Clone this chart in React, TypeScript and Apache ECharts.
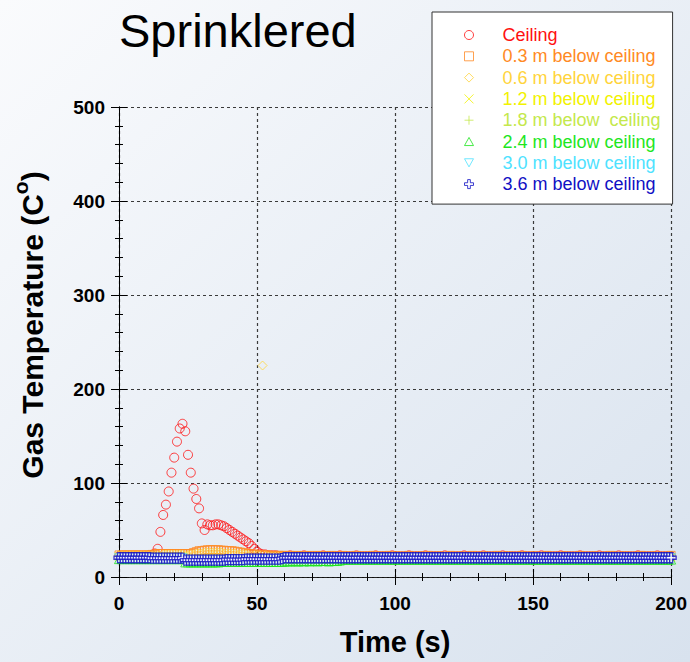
import React, { useEffect, useRef } from 'react';
import * as echarts from 'echarts';

const FONT = '"Liberation Sans", Arial, Helvetica, sans-serif';

// time samples (s)
const time = [
  0, 1, 2, 3, 4, 5, 6, 7, 8, 9, 10, 11, 12, 13, 14, 15, 16, 17, 18, 19,
  20, 21, 22, 23, 24, 25, 26, 27, 28, 29, 30, 31, 32, 33, 34, 35, 36, 37, 38, 39,
  40, 41, 42, 43, 44, 45, 46, 47, 48, 49, 50, 51, 52, 53, 54, 55, 56, 57, 58, 59,
  60, 61, 62, 63, 64, 65, 66, 67, 68, 69, 70, 71, 72, 73, 74, 75, 76, 77, 78, 79,
  80, 81, 82, 83, 84, 85, 86, 87, 88, 89, 90, 91, 92, 93, 94, 95, 96, 97, 98, 99,
  100, 101, 102, 103, 104, 105, 106, 107, 108, 109, 110, 111, 112, 113, 114, 115, 116, 117, 118, 119,
  120, 121, 122, 123, 124, 125, 126, 127, 128, 129, 130, 131, 132, 133, 134, 135, 136, 137, 138, 139,
  140, 141, 142, 143, 144, 145, 146, 147, 148, 149, 150, 151, 152, 153, 154, 155, 156, 157, 158, 159,
  160, 161, 162, 163, 164, 165, 166, 167, 168, 169, 170, 171, 172, 173, 174, 175, 176, 177, 178, 179,
  180, 181, 182, 183, 184, 185, 186, 187, 188, 189, 190, 191, 192, 193, 194, 195, 196, 197, 198, 199,
  200,
];

const ceiling = [
  22, 22, 22, 22, 22, 22, 22, 22, 22, 22,
  22, 23, 23, 25, 30, 48, 66, 77, 91, 111,
  127, 144, 158, 163, 155, 130, 111, 94, 83, 73,
  57, 50, 56, 55, 55, 56, 56, 55, 54, 52,
  50, 48, 46, 44, 42, 40, 38, 36, 33, 30,
  27, 25, 24, 24, 23, 23, 23, 23, 22, 22,
  22, 22, 23, 22, 22, 22, 22, 23, 22, 22,
  22, 22, 22, 22, 23, 22, 22, 22, 22, 22,
  23, 22, 22, 22, 22, 22, 23, 22, 22, 22,
  22, 22, 22, 23, 22, 22, 22, 22, 22, 23,
  22, 22, 22, 22, 22, 23, 22, 22, 22, 22,
  22, 23, 22, 22, 22, 22, 22, 22, 23, 22,
  22, 22, 22, 22, 22, 23, 22, 22, 22, 22,
  22, 22, 23, 22, 22, 22, 22, 22, 22, 23,
  22, 22, 22, 22, 22, 22, 23, 22, 22, 22,
  22, 22, 22, 23, 22, 22, 22, 22, 22, 22,
  23, 22, 22, 22, 22, 22, 22, 23, 22, 22,
  22, 22, 22, 22, 23, 22, 22, 22, 22, 22,
  22, 23, 22, 22, 22, 22, 22, 22, 23, 22,
  22, 22, 22, 22, 22, 23, 22, 22, 22, 22,
  22,
];

const m03 = [
  23.5, 23.5, 23.5, 23.5, 23.5, 23.5, 23.5, 23.5, 23.5, 23.5,
  23.5, 23.5, 24, 24.5, 25, 25, 25, 25, 25, 25,
  25, 25, 25, 25, 25, 24.5, 25, 26, 27, 28,
  28, 28.5, 29, 29, 29, 29, 29, 28.5, 28.5, 28,
  28, 28, 27.5, 27, 26.5, 26, 25.5, 25, 24.5, 24.5,
  24, 24, 23.5, 23.5, 23.5, 23, 23, 23, 23, 23,
  23, 22.5, 23, 22, 23, 22.5, 22, 23, 22.5, 22,
  23, 22, 22.5, 23, 22, 22.5, 22, 23, 22, 22.5,
  22, 23, 22, 22, 22.5, 22, 23, 22, 22, 22.5,
  22, 22, 23, 22, 22, 22.5, 22, 22, 23, 22,
  22, 22.5, 22, 22, 22, 23, 22, 22, 22, 22.5,
  22, 22, 23, 22, 22, 22, 22.5, 22, 22, 22,
  23, 22, 22, 22, 22.5, 22, 22, 22, 23, 22,
  22, 22, 22.5, 22, 22, 22, 22, 23, 22, 22,
  22, 22.5, 22, 22, 22, 22, 23, 22, 22, 22,
  22.5, 22, 22, 22, 22, 23, 22, 22, 22, 22,
  22, 22.5, 22, 22, 22, 22, 22, 23, 22, 22,
  22, 22, 22.5, 22, 22, 22, 22, 22, 23, 22,
  22, 22, 22, 22.5, 22, 22, 22, 22, 22, 23,
  22, 22, 22, 22, 22.5, 22, 22, 22, 22, 22,
  23,
];

const m06 = [
  23, 23, 23, 23, 23, 23, 23, 23, 23, 23,
  23, 23, 23, 23, 23, 23, 24, 24, 24, 24,
  24, 24, 24, 24, 23, 23, 24, 24, 25, 25,
  25, 26, 26, 26, 26, 26, 26, 26, 25, 25,
  25, 25, 25, 24, 24, 24, 24, 23, 23, 23,
  23, 23, 225, 23, 22, 22, 22, 22, 22, 22,
  22, 22, 22, 22, 22, 22, 22, 22, 22, 22,
  22, 22, 22, 22, 22, 22, 22, 22, 22, 22,
  22, 22, 22, 22, 22, 22, 22, 22, 22, 22,
  22, 22, 22, 22, 22, 22, 22, 22, 22, 22,
  22, 22, 22, 22, 22, 22, 22, 22, 22, 22,
  22, 22, 22, 22, 22, 22, 22, 22, 22, 22,
  22, 22, 22, 22, 22, 22, 22, 22, 22, 22,
  22, 22, 22, 22, 22, 22, 22, 22, 22, 22,
  22, 22, 22, 22, 22, 22, 22, 22, 22, 22,
  22, 22, 22, 22, 22, 22, 22, 22, 22, 22,
  22, 22, 22, 22, 22, 22, 22, 22, 22, 22,
  22, 22, 22, 22, 22, 22, 22, 22, 22, 22,
  22, 22, 22, 22, 22, 22, 22, 22, 22, 22,
  22, 22, 22, 22, 22, 22, 22, 22, 22, 22,
  22,
];

const m12 = [
  22, 22, 22, 22, 22, 22, 22, 22, 22, 22,
  22, 22, 22, 22, 22, 22, 22, 22, 22, 22,
  22, 22, 22, 22, 20, 20, 20, 20, 20, 20,
  20, 20, 20, 20, 20, 20, 20, 20, 20, 20,
  20, 20, 20, 20, 20, 20, 20, 20, 20, 20,
  20, 20, 20, 20, 20, 20, 20, 21, 21, 21,
  21, 21, 21, 21, 21, 21, 21, 21, 21, 21,
  21, 21, 21, 21, 21, 21, 21, 21, 21, 21,
  21, 21, 21, 21, 21, 21, 21, 21, 21, 21,
  21, 21, 21, 21, 21, 21, 21, 21, 21, 21,
  21, 21, 21, 21, 21, 21, 21, 21, 21, 21,
  21, 21, 21, 21, 21, 21, 21, 21, 21, 21,
  21, 21, 21, 21, 21, 21, 21, 21, 21, 21,
  21, 21, 21, 21, 21, 21, 21, 21, 21, 21,
  21, 21, 21, 21, 21, 21, 21, 21, 21, 21,
  21, 21, 21, 21, 21, 21, 21, 21, 21, 21,
  21, 21, 21, 21, 21, 21, 21, 21, 21, 21,
  21, 21, 21, 21, 21, 21, 21, 21, 21, 21,
  21, 21, 21, 21, 21, 21, 21, 21, 21, 21,
  21, 21, 21, 21, 21, 21, 21, 21, 21, 21,
  21,
];

const m18 = [
  21, 21, 21, 21, 21, 21, 21, 21, 21, 21,
  21, 21, 21, 21, 21, 21, 21, 21, 21, 21,
  21, 21, 21, 21, 18, 18, 18, 18, 18, 18,
  18, 18, 18, 18, 18, 18, 18, 18, 18, 18,
  18, 18, 18, 18, 18, 18, 18, 18, 18, 18,
  19, 19, 19, 19, 19, 19, 19, 19, 19, 19,
  20, 20, 20, 20, 20, 20, 20, 20, 20, 20,
  20, 20, 20, 20, 20, 20, 20, 20, 20, 20,
  20, 20, 20, 20, 20, 20, 20, 20, 20, 20,
  20, 20, 20, 20, 20, 20, 20, 20, 20, 20,
  20, 20, 20, 20, 20, 20, 20, 20, 20, 20,
  20, 20, 20, 20, 20, 20, 20, 20, 20, 20,
  20, 20, 20, 20, 20, 20, 20, 20, 20, 20,
  20, 20, 20, 20, 20, 20, 20, 20, 20, 20,
  20, 20, 20, 20, 20, 20, 20, 20, 20, 20,
  20, 20, 20, 20, 20, 20, 20, 20, 20, 20,
  20, 20, 20, 20, 20, 20, 20, 20, 20, 20,
  20, 20, 20, 20, 20, 20, 20, 20, 20, 20,
  20, 20, 20, 20, 20, 20, 20, 20, 20, 20,
  20, 20, 20, 20, 20, 20, 20, 20, 20, 20,
  20,
];

const m24 = [
  19, 19, 19, 19, 19, 19, 19, 19, 19, 19,
  19, 19, 19, 19, 19, 19, 19, 19, 19, 19,
  19, 19, 19, 19, 15.5, 15.5, 15.5, 15.5, 15.5, 15.5,
  15.5, 15.5, 15.5, 15.5, 15.5, 15.5, 15.5, 16, 16, 16,
  16, 16, 16, 16, 16, 16, 16, 16, 16, 16,
  16, 16, 16, 16, 16, 16, 16, 16, 16, 16,
  16.5, 16.5, 16.5, 17, 16.5, 16.5, 17, 16.5, 17, 16.5,
  17, 17, 16.5, 17, 17, 17, 16.5, 17, 17, 17,
  17.5, 18.5, 18.5, 18.5, 18.5, 18.5, 18.5, 18.5, 18.5, 18.5,
  18.5, 18.5, 18.5, 18.5, 18.5, 18.5, 18.5, 18.5, 18.5, 18.5,
  18.5, 18.5, 18.5, 18.5, 18.5, 18.5, 18.5, 18.5, 18.5, 18.5,
  18.5, 18.5, 18.5, 18.5, 18.5, 18.5, 18.5, 18.5, 18.5, 18.5,
  18.5, 18.5, 18.5, 18.5, 18.5, 18.5, 18.5, 18.5, 18.5, 18.5,
  18.5, 18.5, 18.5, 18.5, 18.5, 18.5, 18.5, 18.5, 18.5, 18.5,
  18.5, 18.5, 18.5, 18.5, 18.5, 18.5, 18.5, 18.5, 18.5, 18.5,
  18.5, 18.5, 18.5, 18.5, 18.5, 18.5, 18.5, 18.5, 18.5, 18.5,
  18.5, 18.5, 18.5, 18.5, 18.5, 18.5, 18.5, 18.5, 18.5, 18.5,
  18.5, 18.5, 18.5, 18.5, 18.5, 18.5, 18.5, 18.5, 18.5, 18.5,
  18.5, 18.5, 18.5, 18.5, 18.5, 18.5, 18.5, 18.5, 18.5, 18.5,
  18.5, 18.5, 18.5, 18.5, 18.5, 18.5, 18.5, 18.5, 18.5, 18.5,
  18.5,
];

const m30 = [
  20, 20, 20, 20, 20, 20, 20, 20, 20, 20,
  20, 20, 20, 20, 20, 20, 20, 20, 20, 20,
  20, 20, 20, 20, 17.5, 17.5, 17.5, 17.5, 17.5, 17.5,
  17.5, 17.5, 17.5, 17.5, 17.5, 17.5, 17.5, 17.5, 17.5, 18,
  18, 18, 18, 18, 18, 18, 18.5, 18.5, 18.5, 18.5,
  19, 19, 19, 19, 19, 19, 19, 19, 19, 19,
  20, 20, 20, 20, 20, 20, 20, 20, 20, 20,
  20, 20, 20, 20, 20, 20, 20, 20, 20, 20,
  20, 20, 20, 20, 20, 20, 20, 20, 20, 20,
  20, 20, 20, 20, 20, 20, 20, 20, 20, 20,
  20, 20, 20, 20, 20, 20, 20, 20, 20, 20,
  20, 20, 20, 20, 20, 20, 20, 20, 20, 20,
  20, 20, 20, 20, 20, 20, 20, 20, 20, 20,
  20, 20, 20, 20, 20, 20, 20, 20, 20, 20,
  20, 20, 20, 20, 20, 20, 20, 20, 20, 20,
  20, 20, 20, 20, 20, 20, 20, 20, 20, 20,
  20, 20, 20, 20, 20, 20, 20, 20, 20, 20,
  20, 20, 20, 20, 20, 20, 20, 20, 20, 20,
  20, 20, 20, 20, 20, 20, 20, 20, 20, 20,
  20, 20, 20, 20, 20, 20, 20, 20, 20, 20,
  20,
];

const m36 = [
  20.5, 20.5, 20.5, 20.5, 20.5, 20.5, 20.5, 20.5, 20.5, 20.5,
  20.5, 20.5, 20, 20, 20, 20, 20, 20, 20, 20,
  20, 20, 20, 20, 18, 18, 18, 18, 18, 18,
  18, 18, 18, 18, 18, 18, 18, 18, 18, 18.5,
  18.5, 18.5, 18.5, 18.5, 18.5, 18.5, 19, 19, 19, 19,
  19, 19, 19, 19, 19, 19, 19, 19, 19, 19.5,
  20.5, 20.5, 20.5, 20.5, 20.5, 20.5, 20.5, 20.5, 20.5, 20.5,
  20.5, 20.5, 20.5, 20.5, 20.5, 20.5, 20.5, 20.5, 20.5, 20.5,
  20.5, 20.5, 20.5, 20.5, 20.5, 20.5, 20.5, 20.5, 20.5, 20.5,
  20.5, 20.5, 20.5, 20.5, 20.5, 20.5, 20.5, 20.5, 20.5, 20.5,
  20.5, 20.5, 20.5, 20.5, 20.5, 20.5, 20.5, 20.5, 20.5, 20.5,
  20.5, 20.5, 20.5, 20.5, 20.5, 20.5, 20.5, 20.5, 20.5, 20.5,
  20.5, 20.5, 20.5, 20.5, 20.5, 20.5, 20.5, 20.5, 20.5, 20.5,
  20.5, 20.5, 20.5, 20.5, 20.5, 20.5, 20.5, 20.5, 20.5, 20.5,
  20.5, 20.5, 20.5, 20.5, 20.5, 20.5, 20.5, 20.5, 20.5, 20.5,
  20.5, 20.5, 20.5, 20.5, 20.5, 20.5, 20.5, 20.5, 20.5, 20.5,
  20.5, 20.5, 20.5, 20.5, 20.5, 20.5, 20.5, 20.5, 20.5, 20.5,
  20.5, 20.5, 20.5, 20.5, 20.5, 20.5, 20.5, 20.5, 20.5, 20.5,
  20.5, 20.5, 20.5, 20.5, 20.5, 20.5, 20.5, 20.5, 20.5, 20.5,
  20.5, 20.5, 20.5, 20.5, 20.5, 20.5, 20.5, 20.5, 20.5, 20.5,
  20.5,
];

const seriesNames = [
  'Ceiling',
  '0.3 m below ceiling',
  '0.6 m below ceiling',
  '1.2 m below ceiling',
  '1.8 m below  ceiling',
  '2.4 m below ceiling',
  '3.0 m below ceiling',
  '3.6 m below ceiling',
];
const seriesValues = [ceiling, m03, m06, m12, m18, m24, m30, m36];
const seriesColors = ['#ff1010', '#ff8a24', '#ffd43c', '#f2f200', '#c4e84c', '#1ee61e', '#4ee2ff', '#1010c4'];
const seriesSymbols = [
  'circle',
  'rect',
  'diamond',
  'path://M0,0L10,10M10,0L0,10',
  'path://M5,0L5,10M0,5L10,5',
  'path://M5,0L10,9L0,9Z',
  'path://M0,0L10,0L5,9Z',
  'path://M3.5,0L6.5,0L6.5,3.5L10,3.5L10,6.5L6.5,6.5L6.5,10L3.5,10L3.5,6.5L0,6.5L0,3.5L3.5,3.5Z',
];
const seriesSizes = [9, 8, 9, 8, 9, 9, 9, 10];
const seriesFills = ['transparent', 'transparent', 'transparent', 'transparent', 'transparent', 'transparent', 'transparent', '#ffffff'];

const xTicks = { min: 0, max: 200, interval: 50 };
const yTicks = { min: 0, max: 500, interval: 100 };

export default function App() {
  const ref = useRef<HTMLDivElement>(null);
  useEffect(() => {
    if (!ref.current) return;
    const chart = echarts.init(ref.current, null, { renderer: 'svg' });
    const axisCommon = {
      axisLine: { show: true, lineStyle: { color: '#000', width: 1 } },
      axisTick: { show: true, inside: true, length: 8, lineStyle: { color: '#000', width: 1 } },
      minorTick: { show: true, splitNumber: 5, length: 4, lineStyle: { color: '#000', width: 1 } },
    };
    const labelStyle = { color: '#000', fontFamily: FONT, fontWeight: 'bold' as const, fontSize: 19 };
    const splitLine = { show: true, lineStyle: { color: '#3a3a3a', width: 1.2, type: [3, 3] as number[] } };
    const series = seriesNames.map((name, k) => ({
      name,
      type: 'scatter',
      symbol: seriesSymbols[k],
      symbolSize: seriesSizes[k],
      itemStyle: {
        color: seriesFills[k],
        borderColor: seriesColors[k],
        borderWidth: k === 7 ? 1.3 : 1,
      },
      data: time.map((t, i) => [t, seriesValues[k][i]]),
      z: 2 + k * 0.01,
    }));
    chart.setOption({
      animation: false,
      backgroundColor: new echarts.graphic.LinearGradient(0, 0, 1, 1, [
        { offset: 0, color: '#fafbfd' },
        { offset: 1, color: '#d8e2ee' },
      ]),
      title: {
        text: 'Sprinklered',
        left: 114,
        top: 2,
        textStyle: { fontFamily: FONT, fontWeight: 'normal', fontSize: 47, color: '#000' },
      },
      grid: { left: 119, right: 14, top: 107, bottom: 85 },
      xAxis: [
        {
          type: 'value',
          position: 'bottom',
          ...xTicks,
          ...axisCommon,
          axisLabel: { ...labelStyle, margin: 17 },
          splitLine,
          name: 'Time (s)',
          nameLocation: 'middle',
          nameGap: 50,
          nameTextStyle: { fontFamily: FONT, fontWeight: 'bold', fontSize: 29, color: '#000' },
        },
        {
          type: 'value',
          position: 'top',
          ...xTicks,
          ...axisCommon,
          axisLine: { show: true, lineStyle: { color: '#222', width: 1, type: [3, 2] } },
          axisLabel: { show: false },
          splitLine: { show: false },
        },
      ],
      yAxis: [
        {
          type: 'value',
          position: 'left',
          ...yTicks,
          ...axisCommon,
          axisLabel: { ...labelStyle, margin: 14 },
          splitLine,
        },
        {
          type: 'value',
          position: 'right',
          ...yTicks,
          ...axisCommon,
          axisLabel: { show: false },
          splitLine: { show: false },
        },
      ],
      legend: {
        orient: 'vertical',
        left: 432,
        top: 12,
        padding: [14, 12, 11, 32],
        backgroundColor: '#ffffff',
        borderColor: '#333',
        borderWidth: 1,
        itemWidth: 9,
        itemHeight: 9,
        itemGap: 3.3,
        selectedMode: false,
        itemStyle: { borderWidth: 1 },
        textStyle: { fontFamily: FONT, fontSize: 18, lineHeight: 18, padding: [0, 0, 0, 24] },
        data: seriesNames.map((name, k) => ({ name, textStyle: { color: seriesColors[k] } })),
      },
      graphic: [
        {
          type: 'text',
          x: 32,
          y: 325,
          rotation: Math.PI / 2,
          style: {
            text: '{a|Gas Temperature (C}{s|o}{a|)}',
            align: 'center',
            verticalAlign: 'middle',
            rich: {
              a: { fontFamily: FONT, fontWeight: 'bold', fontSize: 30, lineHeight: 44, fill: '#000', verticalAlign: 'middle' },
              s: { fontFamily: FONT, fontWeight: 'bold', fontSize: 21, lineHeight: 14, fill: '#000', verticalAlign: 'top' },
            },
          },
        },
      ],
      series,
    });
    return () => chart.dispose();
  }, []);
  return <div ref={ref} style={{ position: 'absolute', left: 0, top: 0, width: 690, height: 662 }} />;
}
